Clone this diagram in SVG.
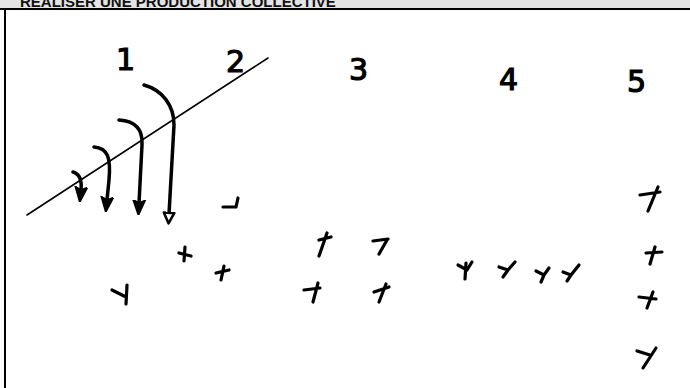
<svg xmlns="http://www.w3.org/2000/svg" width="690" height="388" viewBox="0 0 690 388">
<style>
.hdr{font-family:"Liberation Sans",Arial,sans-serif;font-weight:bold;font-size:15px;fill:#111}
.num{font-family:"DejaVu Sans","Liberation Sans",sans-serif;font-size:30px;fill:#000;stroke:#000;stroke-width:1.2}
.ink{fill:none;stroke:#000;stroke-linecap:round;stroke-linejoin:round}
.arr{stroke-width:3.5}
.mk{stroke-width:3.2}
</style>
<defs>
<marker id="ah" viewBox="0 0 10 10" refX="2" refY="5" markerWidth="4.4" markerHeight="4.4" orient="auto" markerUnits="strokeWidth">
<path d="M0,1 L10,5 L0,9 L2,5 z" fill="#000" stroke="#000" stroke-width="1" stroke-linejoin="round"/>
</marker>
<marker id="ho" viewBox="0 0 12 12" refX="2" refY="6" markerWidth="4" markerHeight="4" orient="auto" markerUnits="strokeWidth">
<path d="M1,1.5 L10,6 L1,10.5 z" fill="#fff" stroke="#000" stroke-width="2.2" stroke-linejoin="round"/>
</marker>
</defs>
<rect x="0" y="0" width="690" height="9" fill="#e4e4e4"/>
<rect x="0" y="8" width="690" height="2" fill="#000"/>
<rect x="4" y="8" width="2" height="380" fill="#000"/>
<text class="hdr" x="20" y="7">REALISER UNE PRODUCTION COLLECTIVE</text>

<g id="labels">
<text class="num" x="116" y="70">1</text>
<text class="num" x="226" y="72">2</text>
<text class="num" x="349" y="80">3</text>
<text class="num" x="499" y="90">4</text>
<text class="num" x="627" y="92">5</text>
</g>

<g id="connectors">
<path class="ink" d="M27,215 L268,58" stroke-width="1.6"/>
<path class="ink arr" d="M73,172 C80,174 82,180 81,190" marker-end="url(#ah)"/>
<path class="ink arr" d="M94,147 C108,148 111,158 109,180 L107,200" marker-end="url(#ah)"/>
<path class="ink arr" d="M119,120 C136,121 143,130 142,145 L139,203" marker-end="url(#ah)"/>
<path class="ink arr" d="M144,85 C162,90 174,105 174,125 L169,214" marker-end="url(#ho)"/>
</g>

<g id="marks" class="ink mk">
<path d="M223,207 L236,207 M238,198 L236,207"/>
<path d="M179,253 L191,256 M185,247 L184,261"/>
<path d="M216,273 L229,270 M224,266 L221,280"/>
<path d="M319,240 L331,237 M327,233 L319,256"/>
<path d="M373,241 L388,239 M387,240 L379,254"/>
<path d="M304,290 L320,288 M318,283 L313,302"/>
<path d="M374,292 L389,287 M386,284 L379,302"/>
<path d="M112,290 L124,296 M127,285 L126,304"/>
<path d="M458,265 L467,270 M466,263 L465,279 M467,270 L472,262"/>
<path d="M499,267 L508,270 M508,270 L515,262 M508,270 L503,277"/>
<path d="M536,271 L544,275 M544,275 L549,268 M544,275 L541,282"/>
<path d="M563,272 L571,275 M571,275 L579,265 M571,275 L567,281"/>
<path d="M640,195 L660,192 M658,187 L648,211"/>
<path d="M646,253 L662,252 M655,247 L650,264"/>
<path d="M639,297 L656,299 M653,292 L647,308"/>
<path d="M637,351 L650,355 M656,348 L643,368"/>
</g>
</svg>
